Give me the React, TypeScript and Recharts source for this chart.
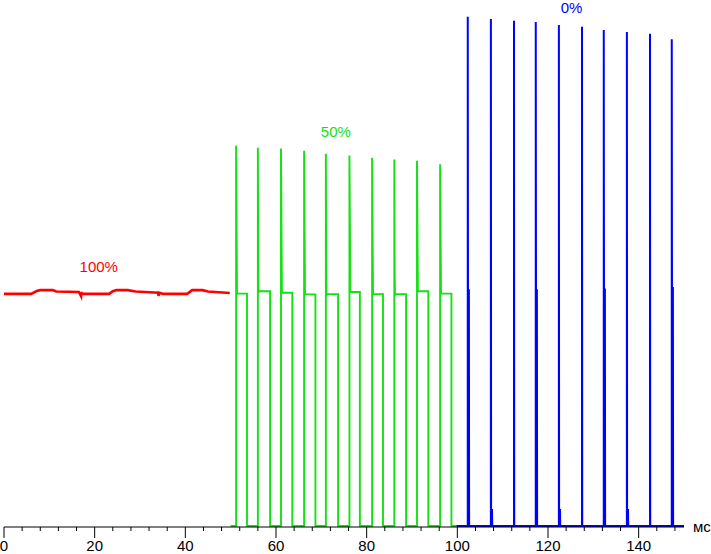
import React from 'react';
import { LineChart, Line, XAxis, YAxis, ReferenceDot } from 'recharts';

const FONT = '"Liberation Sans", Arial, sans-serif';
const RED = '#ff0000';
const GREEN = '#14e014';
const BLUE = '#0000ff';

// x axis, ms
const X_TICKS = [0, 4, 8, 12, 16, 20, 24, 28, 32, 36, 40, 44, 48, 52, 56, 60, 64, 68, 72, 76, 80, 84, 88, 92, 96, 100, 104, 108, 112, 116, 120, 124, 128, 132, 136, 140, 144, 148];

// 100% segment (red), [time, level]
const redTimes = [0, 6.0, 7.2, 8.0, 10.8, 11.5, 16.5, 17.0, 17.05, 17.2, 23.2, 24.0, 24.8, 27.3, 29.0, 34.0, 34.1, 34.15, 35.0, 40.4, 41.5, 43.8, 45.0, 49.8];
const redLevels = [99.8, 99.8, 101.0, 101.4, 101.4, 100.8, 100.6, 98.8, 100.6, 99.8, 99.8, 100.9, 101.4, 101.4, 100.8, 100.3, 98.9, 100.3, 99.8, 99.8, 101.4, 101.4, 100.8, 100.2];

// 50% segment (green)
const greenSpikeTimes = [51.2, 56.0, 61.1, 66.2, 71.0, 76.2, 81.2, 86.1, 91.1, 96.2];
const greenSpikeTops = [163.2, 162.4, 162.0, 161.1, 159.8, 159.0, 158.1, 157.3, 156.8, 155.3];
const greenOvershoot = [0, 110, 0, 0, 109.5, 0, 0, 109, 0, 0];
const greenPlateau = [99.9, 100.9, 100.3, 99.6, 99.7, 100.6, 99.7, 99.7, 100.9, 99.9];
const greenFallTimes = [53.6, 58.7, 63.6, 68.7, 73.7, 78.5, 83.6, 88.7, 93.6, 98.7];

// 0% segment (blue)
const blueSpikeTimes = [102.3, 107.4, 112.5, 117.3, 122.4, 127.5, 132.3, 137.4, 142.5, 147.3];
const blueSpikeTops = [218.4, 217.5, 216.7, 216.2, 214.9, 214.1, 212.8, 211.9, 211.1, 208.8];
const blueAfter = [101.3, 7.3, 0, 101.3, 7.3, 0, 101.7, 7.3, 0, 102.3];

const BASE = 0.4;

const redData = redTimes.map((t, i) => ({ t, v: redLevels[i] }));

const greenData: { t: number; v: number }[] = [{ t: 50, v: BASE }];
greenSpikeTimes.forEach((t0, i) => {
  greenData.push({ t: t0, v: BASE }, { t: t0, v: greenSpikeTops[i] });
  if (greenOvershoot[i]) {
    greenData.push({ t: t0 + 0.08, v: greenOvershoot[i] }, { t: t0 + 0.15, v: greenPlateau[i] - 0.6 });
  }
  greenData.push(
    { t: t0 + 0.2, v: greenPlateau[i] },
    { t: greenFallTimes[i], v: greenPlateau[i] },
    { t: greenFallTimes[i], v: BASE },
  );
});
greenData.push({ t: 99.8, v: BASE });

const blueData: { t: number; v: number }[] = [{ t: 99.8, v: BASE }];
blueSpikeTimes.forEach((t0, i) => {
  blueData.push({ t: t0, v: BASE }, { t: t0, v: blueSpikeTops[i] });
  if (blueAfter[i]) {
    blueData.push(
      { t: t0 + 0.05, v: blueAfter[i] },
      { t: t0 + 0.25, v: blueAfter[i] },
      { t: t0 + 0.3, v: BASE },
    );
  } else {
    blueData.push({ t: t0 + 0.05, v: BASE });
  }
});
blueData.push({ t: 150, v: BASE });

function AxisTick(props: any) {
  const { x, y, payload } = props;
  const major = payload.value % 20 === 0;
  return (
    <g>
      <line x1={x} x2={x} y1={y} y2={y + (major ? 11 : 4)} stroke="#000" strokeWidth={1} />
      {major && (
        <text x={x} y={y + 24} textAnchor="middle" fontSize={15} fill="#000" fontFamily={FONT}>
          {payload.value}
        </text>
      )}
    </g>
  );
}

function textShape(label: string, color: string, dx = 0, dy = 0, anchor = 'middle') {
  return (p: any) => (
    <text x={p.cx + dx} y={p.cy + dy} textAnchor={anchor} fontSize={15} fill={color} fontFamily={FONT}>
      {label}
    </text>
  );
}

export default function App() {
  return (
    <div style={{ position: 'absolute', left: 0, top: 0, width: 711, height: 554, background: '#fff' }}>
      <LineChart width={711} height={554} margin={{ top: 0, right: 27, left: 4, bottom: 0 }}>
        <XAxis
          type="number"
          dataKey="t"
          domain={[0, 150]}
          ticks={X_TICKS}
          interval={0}
          height={27}
          tickSize={0}
          tickMargin={0}
          tickLine={false}
          axisLine={{ stroke: '#000', strokeWidth: 1 }}
          tick={<AxisTick />}
          allowDataOverflow
        />
        <YAxis type="number" dataKey="v" domain={[0, 225.6]} hide allowDataOverflow />
        <Line data={redData} dataKey="v" type="linear" stroke={RED} strokeWidth={2.6} dot={false} isAnimationActive={false} />
        <Line data={greenData} dataKey="v" type="linear" stroke={GREEN} strokeWidth={1.9} dot={false} isAnimationActive={false} />
        <Line data={blueData} dataKey="v" type="linear" stroke={BLUE} strokeWidth={2} dot={false} isAnimationActive={false} />
        <ReferenceDot x={20.9} y={109.2} r={0} shape={textShape('100%', RED)} />
        <ReferenceDot x={73.2} y={166.8} r={0} shape={textShape('50%', GREEN)} />
        <ReferenceDot x={125.2} y={220.2} r={0} shape={textShape('0%', BLUE)} />
        <ReferenceDot x={150} y={0} r={0} shape={textShape('мс', '#000', 9, 5, 'start')} />
      </LineChart>
    </div>
  );
}
